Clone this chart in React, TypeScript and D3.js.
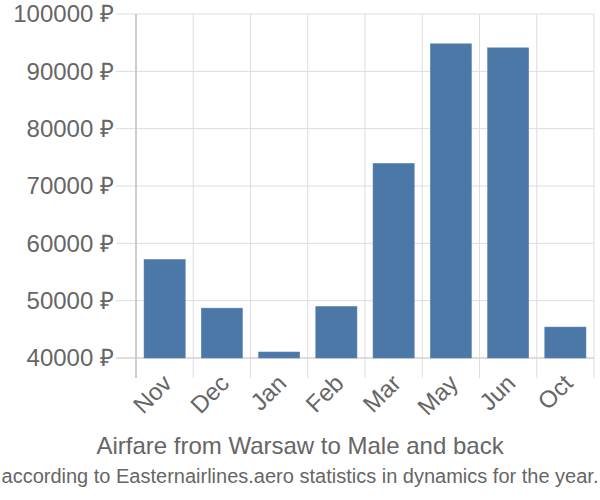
import React from "react";
import * as d3 from "d3";

const months = ["Nov", "Dec", "Jan", "Feb", "Mar", "May", "Jun", "Oct"];
const prices = [57200, 48700, 41050, 49000, 73950, 94800, 94100, 45400];
const yTicks = [40000, 50000, 60000, 70000, 80000, 90000, 100000];
const title = "Airfare from Warsaw to Male and back";
const subtitle = "according to Easternairlines.aero statistics in dynamics for the year.";

export default function App() {
  const W = 600, H = 500;
  const left = 136, right = 594, top = 14, bottom = 358;
  const x = d3.scaleBand<string>().domain(months).range([left, right]).paddingInner(0.28).paddingOuter(0.14);
  const xg = d3.scaleBand<string>().domain(months).range([left, right]);
  const y = d3.scaleLinear().domain([40000, 100000]).range([bottom, top]);
  const font = "'Liberation Sans', Arial, sans-serif";
  const textColor = "#666";
  return (
    <svg width={W} height={H} style={{ position: "absolute", left: 0, top: 0 }} fontFamily={font}>
      {yTicks.map((t) => (
        <g key={t}>
          <line x1={116} x2={right} y1={y(t)} y2={y(t)} stroke="#ddd" strokeWidth={1} />
          <text x={114} y={y(t)} dy="0.35em" textAnchor="end" fontSize={24} fill={textColor}>
            {t} ₽
          </text>
        </g>
      ))}
      {months.map((m) => (
        <line key={m} x1={xg(m)!} x2={xg(m)!} y1={top} y2={bottom + 20} stroke="#ddd" strokeWidth={1} />
      ))}
      <line x1={right} x2={right} y1={top} y2={bottom + 20} stroke="#ddd" strokeWidth={1} />
      <line x1={left} x2={left} y1={top} y2={bottom + 20} stroke="#aaa" strokeWidth={1} />
      <line x1={116} x2={right} y1={bottom} y2={bottom} stroke="#ccc" strokeWidth={1} />
      {months.map((m, i) => (
        <rect key={m} x={x(m)!} y={y(prices[i])} width={x.bandwidth()} height={bottom - y(prices[i])} fill="#4c78a8" stroke="#5b86b3" strokeWidth={0.5} />
      ))}
      {months.map((m) => {
        const cx = xg(m)! + xg.bandwidth() / 2 - 4;
        return (
          <text key={m} transform={`translate(${cx},${bottom + 14}) rotate(-45)`} textAnchor="end" dy="0.75em" fontSize={24} fill={textColor}>
            {m}
          </text>
        );
      })}
      <text x={300} y={454} textAnchor="middle" fontSize={24} fill={textColor}>{title}</text>
      <text x={300} y={483} textAnchor="middle" fontSize={20} fill={textColor}>{subtitle}</text>
    </svg>
  );
}
